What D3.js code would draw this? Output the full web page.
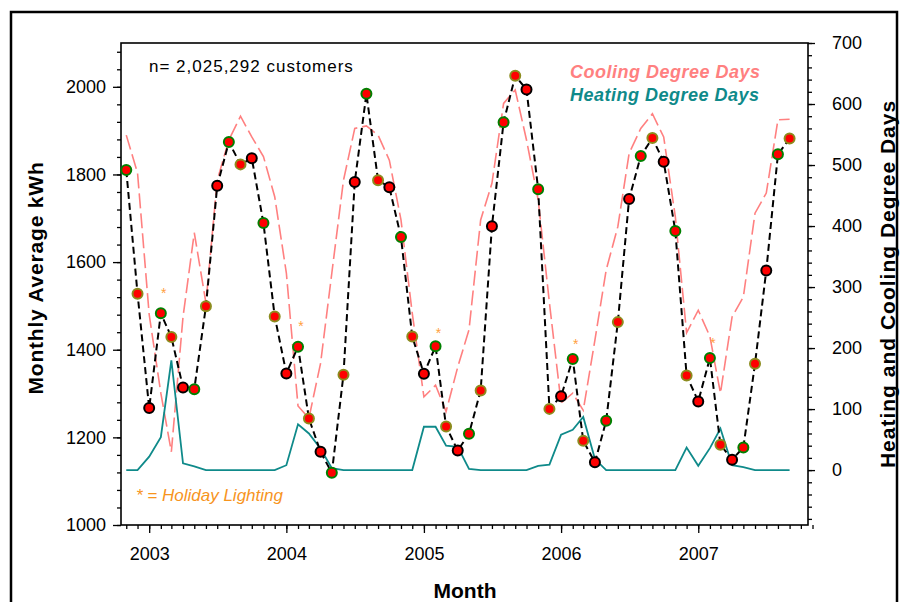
<!DOCTYPE html>
<html>
<head>
<meta charset="utf-8">
<script src="https://cdn.jsdelivr.net/npm/d3@7"></script>
<style>
  body { margin: 0; background: #fff; }
  svg { display: block; }
</style>
</head>
<body>
<script>
// data, monthly from Nov 2002 to Sep 2007
var months = [
  "2002-11","2002-12",
  "2003-01","2003-02","2003-03","2003-04","2003-05","2003-06","2003-07","2003-08","2003-09","2003-10","2003-11","2003-12",
  "2004-01","2004-02","2004-03","2004-04","2004-05","2004-06","2004-07","2004-08","2004-09","2004-10","2004-11","2004-12",
  "2005-01","2005-02","2005-03","2005-04","2005-05","2005-06","2005-07","2005-08","2005-09","2005-10","2005-11","2005-12",
  "2006-01","2006-02","2006-03","2006-04","2006-05","2006-06","2006-07","2006-08","2006-09","2006-10","2006-11","2006-12",
  "2007-01","2007-02","2007-03","2007-04","2007-05","2007-06","2007-07","2007-08","2007-09"
];
// monthly average kWh
var kwh = [
  1810, 1528,
  1267, 1483, 1429, 1314, 1310, 1499, 1774, 1874, 1823, 1837, 1689, 1476,
  1346, 1407, 1243, 1167, 1119, 1343, 1783, 1984, 1787, 1771, 1657, 1430,
  1345, 1408, 1225, 1170, 1208, 1307, 1682, 1919, 2025, 1994, 1766, 1265,
  1294, 1379, 1192, 1143, 1238, 1463, 1744, 1842, 1883, 1829, 1671, 1341,
  1282, 1381, 1183, 1149, 1177, 1368, 1581, 1846, 1882
];
// heating degree days
var hdd = [
  0, 0,
  22, 54, 180, 11, 6, 0, 0, 0, 0, 0, 0, 0,
  8, 75, 60, 35, 3, 0, 0, 0, 0, 0, 0, 0,
  71, 71, 40, 38, 2, 0, 0, 0, 0, 0, 7, 9,
  58, 66, 87, 18, 0, 0, 0, 0, 0, 0, 0, 37,
  7, 36, 68, 8, 5, 0, 0, 0, 0
];
// cooling degree days
var cdd = [
  549, 487,
  255, 126, 30, 251, 389, 274, 475, 541, 580, 546, 514, 448,
  323, 105, 85, 175, 323, 475, 560, 564, 549, 508, 410, 257,
  120, 139, 96, 169, 230, 410, 470, 601, 623, 541, 443, 274,
  110, 126, 98, 213, 328, 399, 519, 560, 584, 546, 415, 225,
  262, 219, 126, 251, 284, 421, 454, 574, 575
];
// holiday lighting markers (kWh level of the asterisk)
var holidayMonths = ["2003-02","2004-02","2005-02","2006-02","2007-02"];
var holidayLevel = [1535, 1458, 1442, 1417, 1419];

var yearTicks = [2003, 2004, 2005, 2006, 2007];
var kwhTicks = [1000, 1200, 1400, 1600, 1800, 2000];
var ddTicks = [0, 100, 200, 300, 400, 500, 600, 700];

var w = 909, h = 602;
var pLeft = 121, pRight = 808, pTop = 43, pBottom = 525;
var font = "'Liberation Sans', Arial, sans-serif";

var parse = d3.timeParse("%Y-%m");
var dates = months.map(parse);

var x = d3.scaleTime()
    .domain([new Date(2002, 9, 18), new Date(2007, 9, 20)])
    .range([pLeft, pRight]);
var yL = d3.scaleLinear().domain([1000, 2100]).range([pBottom, pTop]);
var yR = d3.scaleLinear().domain([-90, 700]).range([pBottom, pTop]);

var svg = d3.select("body").append("svg")
    .attr("width", w)
    .attr("height", h);

svg.append("rect").attr("width", w).attr("height", h).attr("fill", "#fff");

// outer frame
svg.append("rect")
   .attr("x", 11).attr("y", 12)
   .attr("width", 886).attr("height", 620)
   .attr("fill", "none").attr("stroke", "#000").attr("stroke-width", 2.5);

// plot box
svg.append("rect")
   .attr("x", pLeft).attr("y", pTop)
   .attr("width", pRight - pLeft).attr("height", pBottom - pTop)
   .attr("fill", "none").attr("stroke", "#000").attr("stroke-width", 1.6);

function styleAxis(g) {
    g.select(".domain").remove();
    g.selectAll("line").attr("stroke", "#000").attr("stroke-width", 1.3);
    g.selectAll("text").attr("font-family", font).attr("font-size", 18).attr("fill", "#000");
}

// x axis: monthly minor ticks, yearly labels
var monthTicks = d3.timeMonth.range(new Date(2002, 10, 1), new Date(2007, 10, 2));
svg.append("g").attr("transform", "translate(0," + pBottom + ")")
   .call(d3.axisBottom(x).tickValues(monthTicks).tickSize(4).tickFormat(""))
   .call(styleAxis);
svg.append("g").attr("transform", "translate(0," + pBottom + ")")
   .call(d3.axisBottom(x).tickValues(yearTicks.map(function(y) { return new Date(y, 0, 1); }))
        .tickSize(8).tickPadding(14).tickFormat(d3.timeFormat("%Y")))
   .call(styleAxis);

// left axis
svg.append("g").attr("transform", "translate(" + pLeft + ",0)")
   .call(d3.axisLeft(yL).tickValues(d3.range(1000, 2100, 40)).tickSize(4).tickFormat(""))
   .call(styleAxis);
svg.append("g").attr("transform", "translate(" + pLeft + ",0)")
   .call(d3.axisLeft(yL).tickValues(kwhTicks).tickSize(8).tickPadding(7).tickFormat(d3.format("d")))
   .call(styleAxis);

// right axis
svg.append("g").attr("transform", "translate(" + pRight + ",0)")
   .call(d3.axisRight(yR).tickValues(d3.range(-80, 701, 20)).tickSize(4).tickFormat(""))
   .call(styleAxis);
svg.append("g").attr("transform", "translate(" + pRight + ",0)")
   .call(d3.axisRight(yR).tickValues(ddTicks).tickSize(7).tickPadding(17).tickFormat(d3.format("d")))
   .call(styleAxis);

// axis titles
svg.append("text")
   .attr("transform", "translate(43," + ((pTop + pBottom) / 2 - 6) + ") rotate(-90)")
   .attr("text-anchor", "middle")
   .attr("font-family", font).attr("font-size", 21).attr("font-weight", "bold")
   .attr("letter-spacing", 0.8)
   .text("Monthly Average kWh");

svg.append("text")
   .attr("transform", "translate(895," + ((pTop + pBottom) / 2) + ") rotate(-90)")
   .attr("text-anchor", "middle")
   .attr("font-family", font).attr("font-size", 21).attr("font-weight", "bold")
   .attr("letter-spacing", 1)
   .text("Heating and Cooling Degree Days");

svg.append("text")
   .attr("x", 465).attr("y", 598)
   .attr("text-anchor", "middle")
   .attr("font-family", font).attr("font-size", 21).attr("font-weight", "bold")
   .text("Month");

// degree day lines
var ddLine = d3.line()
    .x(function(d, i) { return x(dates[i]); })
    .y(function(d) { return yR(d); });

svg.append("path")
   .datum(cdd)
   .attr("d", ddLine)
   .attr("fill", "none")
   .attr("stroke", "#ff8080")
   .attr("stroke-width", 1.6)
   .attr("stroke-dasharray", "15,5");

svg.append("path")
   .datum(hdd)
   .attr("d", ddLine)
   .attr("fill", "none")
   .attr("stroke", "#0f8a8a")
   .attr("stroke-width", 1.8);

// kWh line and points
var kwhLine = d3.line()
    .x(function(d, i) { return x(dates[i]); })
    .y(function(d) { return yL(d); });

svg.append("path")
   .datum(kwh)
   .attr("d", kwhLine)
   .attr("fill", "none")
   .attr("stroke", "#000")
   .attr("stroke-width", 2)
   .attr("stroke-dasharray", "7,4");

var outline = d3.scaleOrdinal().domain([0, 1, 2]).range(["#008000", "#8c8c1e", "#000000"]);

svg.append("g").selectAll("circle")
   .data(kwh)
   .join("circle")
   .attr("cx", function(d, i) { return x(dates[i]); })
   .attr("cy", function(d) { return yL(d); })
   .attr("r", 5)
   .attr("fill", "#ff0000")
   .attr("stroke", function(d, i) { return outline(i % 3); })
   .attr("stroke-width", 2);

// holiday asterisks
svg.append("g").selectAll("text")
   .data(holidayLevel)
   .join("text")
   .attr("x", function(d, i) { return x(parse(holidayMonths[i])) + 3; })
   .attr("y", function(d) { return yL(d) + 7; })
   .attr("text-anchor", "middle")
   .attr("font-family", font).attr("font-size", 14)
   .attr("fill", "#ffa040")
   .text("*");

// annotations
svg.append("text")
   .attr("x", 149).attr("y", 72)
   .attr("font-family", font).attr("font-size", 17)
   .attr("letter-spacing", 1)
   .text("n= 2,025,292 customers");

svg.append("text")
   .attr("x", 570).attr("y", 78)
   .attr("font-family", font).attr("font-size", 18).attr("font-weight", "bold").attr("font-style", "italic")
   .attr("letter-spacing", 0.5)
   .attr("fill", "#ff8080")
   .text("Cooling Degree Days");

svg.append("text")
   .attr("x", 570).attr("y", 101)
   .attr("font-family", font).attr("font-size", 18).attr("font-weight", "bold").attr("font-style", "italic")
   .attr("letter-spacing", 0.5)
   .attr("fill", "#0f8a8a")
   .text("Heating Degree Days");

svg.append("text")
   .attr("x", 136).attr("y", 501)
   .attr("font-family", font).attr("font-size", 17).attr("font-style", "italic")
   .attr("fill", "#f7941d")
   .text("* = Holiday Lighting");
</script>
</body>
</html>
